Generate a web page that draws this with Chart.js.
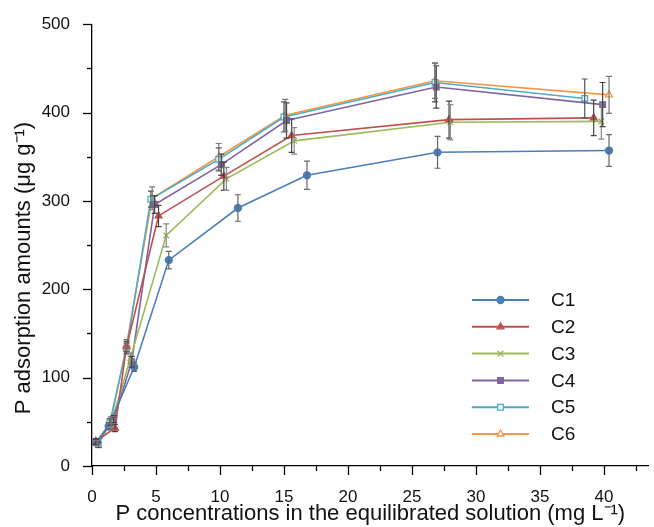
<!DOCTYPE html>
<html>
<head>
<meta charset="utf-8">
<script src="https://cdn.jsdelivr.net/npm/chart.js@4.4.1/dist/chart.umd.min.js"></script>
<style>
  html, body { margin: 0; padding: 0; background: #fff; }
  #wrap { width: 654px; height: 527px; }
</style>
</head>
<body>
<div id="wrap"><canvas id="isotherm"></canvas></div>
<script>
const seriesNames = ['C1', 'C2', 'C3', 'C4', 'C5', 'C6'];

// equilibrium P concentration (mg/L), adsorbed P (ug/g), +/- error
const c1Conc = [0.4, 1.3, 3.3, 6.0, 11.4, 16.8, 27.0, 40.4];
const c1Ads  = [27, 45, 112, 233, 292, 329, 355, 357];
const c1Err  = [3, 4, 5, 10, 15, 16, 18, 18];

const c2Conc = [0.3, 1.8, 2.7, 5.2, 10.3, 15.6, 27.9, 39.2];
const c2Ads  = [28, 43, 135, 283, 328, 374, 392, 394];
const c2Err  = [3, 4, 6, 12, 16, 19, 21, 20];

const c3Conc = [0.4, 1.5, 3.0, 5.8, 10.5, 15.8, 28.0, 39.8];
const c3Ads  = [26, 48, 122, 261, 325, 368, 389, 390];
const c3Err  = [3, 4, 6, 13, 13, 15, 20, 20];

const c4Conc = [0.3, 1.7, 3.1, 4.9, 10.1, 15.2, 26.9, 39.9];
const c4Ads  = [27, 53, 118, 296, 341, 391, 429, 409];
const c4Err  = [3, 4, 6, 10, 12, 20, 24, 25];

const c5Conc = [0.5, 1.4, 2.7, 4.6, 9.9, 15.0, 26.8, 38.5];
const c5Ads  = [24, 50, 133, 302, 347, 395, 434, 416];
const c5Err  = [3, 4, 6, 9, 13, 17, 22, 22];

const c6Conc = [0.4, 1.5, 2.7, 4.7, 9.9, 15.1, 26.8, 40.4];
const c6Ads  = [26, 52, 137, 303, 350, 397, 436, 420];
const c6Err  = [3, 4, 6, 13, 15, 18, 20, 21];

const concs = [c1Conc, c2Conc, c3Conc, c4Conc, c5Conc, c6Conc];
const ads = [c1Ads, c2Ads, c3Ads, c4Ads, c5Ads, c6Ads];
const errs = [c1Err, c2Err, c3Err, c4Err, c5Err, c6Err];

const colors = ['#4a7ebb', '#c0504d', '#9bbb59', '#8064a2', '#4bacc6', '#f79646'];
const markers = ['circle', 'triangle', 'crossRot', 'rect', 'rect', 'triangle'];
const hollow = [false, false, false, false, true, true];
const errColors = ['#666', '#444', '#888', '#444', '#555', '#777'];

const FONT = '"Liberation Sans", Arial, sans-serif';
const yTitleText = 'P adsorption amounts (\u03BCg g\u207B\u00B9)';

const datasets = seriesNames.map((name, i) => ({
  label: name,
  data: concs[i].map((c, j) => ({ x: c, y: ads[i][j], err: errs[i][j] })),
  borderColor: colors[i],
  backgroundColor: hollow[i] ? '#fff' : colors[i],
  pointBackgroundColor: hollow[i] ? '#fff' : colors[i],
  pointBorderColor: colors[i],
  pointStyle: markers[i],
  pointRadius: markers[i] === 'circle' ? 3.5 : 4,
  pointBorderWidth: 1.3,
  borderWidth: 1.6,
  tension: 0,
  errColor: errColors[i]
}));

// vertical error bars with caps
const errorBars = {
  id: 'errorBars',
  afterDatasetsDraw(chart) {
    const { ctx, scales: { x, y } } = chart;
    ctx.save();
    ctx.lineWidth = 1.2;
    chart.data.datasets.forEach(ds => {
      ctx.strokeStyle = ds.errColor;
      ds.data.forEach(p => {
        const px = x.getPixelForValue(p.x);
        const top = y.getPixelForValue(p.y + p.err);
        const bot = y.getPixelForValue(p.y - p.err);
        ctx.beginPath();
        ctx.moveTo(px, top); ctx.lineTo(px, bot);
        ctx.moveTo(px - 3, top); ctx.lineTo(px + 3, top);
        ctx.moveTo(px - 3, bot); ctx.lineTo(px + 3, bot);
        ctx.stroke();
      });
    });
    ctx.restore();
  }
};

// outward major / minor tick marks + y title (sits a bit below the axis middle)
const axisDecor = {
  id: 'axisDecor',
  afterDraw(chart) {
    const { ctx, scales: { x, y } } = chart;
    ctx.save();
    ctx.strokeStyle = '#000';
    ctx.lineWidth = 1.3;
    x.ticks.forEach(t => {
      const px = Math.round(x.getPixelForValue(t.value)) + 0.5;
      const len = t.value % 5 === 0 ? 9 : 5;
      ctx.beginPath(); ctx.moveTo(px, y.bottom); ctx.lineTo(px, y.bottom + len); ctx.stroke();
    });
    y.ticks.forEach(t => {
      const py = Math.round(y.getPixelForValue(t.value)) + 0.5;
      const len = t.value % 100 === 0 ? 9 : 5;
      ctx.beginPath(); ctx.moveTo(x.left, py); ctx.lineTo(x.left - len, py); ctx.stroke();
    });

    ctx.translate(24, 268);
    ctx.rotate(-Math.PI / 2);
    ctx.fillStyle = '#111';
    ctx.font = '22px ' + FONT;
    ctx.textAlign = 'center';
    ctx.textBaseline = 'middle';
    ctx.fillText(yTitleText, 0, 0);
    ctx.restore();
  }
};

// legend inside the plot, lower right
const insideLegend = {
  id: 'insideLegend',
  afterDraw(chart) {
    const { ctx } = chart;
    const x0 = 472, x1 = 529, textX = 551, top = 300, gap = 26.8;
    ctx.save();
    chart.data.datasets.forEach((ds, i) => {
      const yy = top + i * gap;
      ctx.strokeStyle = ds.borderColor;
      ctx.lineWidth = 2;
      ctx.beginPath(); ctx.moveTo(x0, yy); ctx.lineTo(x1, yy); ctx.stroke();
      ctx.fillStyle = ds.pointBackgroundColor;
      ctx.strokeStyle = ds.pointBorderColor;
      ctx.lineWidth = 1.3;
      Chart.helpers.drawPoint(ctx, {
        pointStyle: ds.pointStyle, radius: ds.pointRadius, rotation: 0, borderWidth: 1.3
      }, (x0 + x1) / 2, yy);
      ctx.fillStyle = '#111';
      ctx.font = '19px ' + FONT;
      ctx.textBaseline = 'middle';
      ctx.fillText(ds.label, textX, yy + 1);
    });
    ctx.restore();
  }
};

new Chart(document.getElementById('isotherm'), {
  type: 'line',
  data: { datasets: datasets },
  options: {
    responsive: true,
    maintainAspectRatio: false,
    animation: false,
    devicePixelRatio: 1,
    layout: { padding: { top: 22, right: 2, left: 0, bottom: 0 } },
    plugins: { legend: { display: false }, tooltip: { enabled: false } },
    scales: {
      x: {
        type: 'linear',
        min: 0,
        max: 43.5,
        grid: { display: false },
        border: { display: true, color: '#000', width: 1.3 },
        ticks: {
          stepSize: 2.5,
          includeBounds: false,
          autoSkip: false,
          maxRotation: 0,
          padding: 13,
          color: '#111',
          font: { size: 17, family: FONT },
          callback: v => (v % 5 === 0 ? v : '')
        },
        title: {
          display: true,
          text: 'P concentrations in the equilibrated solution (mg L\u207B\u00B9)',
          color: '#111',
          font: { size: 22, family: FONT },
          padding: { top: 0, bottom: 0 }
        },
        afterFit: s => { s.height = 61; }
      },
      y: {
        min: 0,
        max: 500,
        grid: { display: false },
        border: { display: true, color: '#000', width: 1.3 },
        ticks: {
          stepSize: 50,
          autoSkip: false,
          padding: 14,
          color: '#111',
          font: { size: 17, family: FONT },
          callback: v => (v % 100 === 0 ? v : '')
        },
        title: { display: false },
        afterFit: s => { s.width = 92; }
      }
    }
  },
  plugins: [errorBars, axisDecor, insideLegend]
});
</script>
</body>
</html>
